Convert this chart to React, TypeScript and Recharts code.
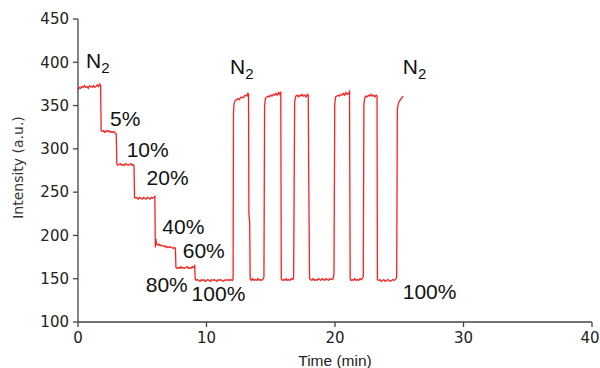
import { LineChart, Line, XAxis, YAxis, ReferenceDot, Label } from 'recharts'

// time (min), intensity (a.u.)
const n2Start: [number, number][] = [
  [0, 368], [0.1, 371], [0.2, 370], [0.3, 372], [0.4, 371], [0.5, 373], [0.6, 371], [0.7, 372],
  [0.8, 370], [0.9, 373], [1.0, 372], [1.1, 371], [1.2, 373], [1.3, 371], [1.4, 372], [1.5, 374],
  [1.6, 372], [1.7, 375], [1.76, 373],
]

const concentrationSteps: [number, number][] = [
  // 5%
  [1.8, 321], [1.9, 320], [2.0, 321], [2.1, 319], [2.2, 321], [2.3, 320], [2.4, 321], [2.5, 319],
  [2.6, 320], [2.7, 319], [2.8, 320], [2.9, 318], [2.98, 317],
  // 10%
  [3.02, 283], [3.1, 281], [3.2, 282], [3.3, 283], [3.4, 281], [3.5, 282], [3.6, 281], [3.7, 283],
  [3.8, 282], [3.9, 281], [4.0, 282], [4.1, 283], [4.2, 281], [4.3, 282], [4.36, 280],
  // 20%
  [4.4, 244], [4.5, 243], [4.6, 244], [4.7, 242], [4.8, 244], [4.9, 243], [5.0, 242], [5.1, 244],
  [5.2, 243], [5.3, 242], [5.4, 244], [5.5, 243], [5.6, 242], [5.7, 244], [5.8, 243], [5.9, 244],
  [5.98, 245],
  // 40%
  [6.02, 186], [6.06, 196], [6.12, 190], [6.2, 189], [6.3, 190], [6.4, 188], [6.5, 189], [6.6, 188],
  [6.7, 187], [6.8, 188], [6.9, 186], [7.0, 187], [7.1, 186], [7.2, 187], [7.3, 186], [7.4, 185],
  [7.5, 186], [7.58, 185],
  // 60%
  [7.62, 163], [7.7, 162], [7.8, 163], [7.9, 162], [8.0, 164], [8.1, 162], [8.2, 163], [8.3, 162],
  [8.4, 163], [8.5, 164], [8.6, 162], [8.7, 163], [8.8, 162], [8.9, 164], [9.0, 163], [9.08, 165],
  // 80% / 100%
  [9.12, 150], [9.2, 148], [9.3, 149], [9.4, 148], [9.5, 147], [9.6, 149], [9.7, 148], [9.8, 149],
  [9.9, 147], [10.0, 148], [10.1, 149], [10.2, 148], [10.3, 147], [10.4, 149], [10.5, 148], [10.6, 149],
  [10.7, 148], [10.8, 147], [10.9, 149], [11.0, 148], [11.1, 149], [11.2, 148], [11.3, 147], [11.4, 148],
  [11.5, 149], [11.6, 148], [11.7, 149], [11.8, 148], [11.9, 149], [12.0, 148], [12.07, 150],
]

const cycles: [number, number][] = [
  [12.1, 340], [12.14, 352], [12.25, 356], [12.35, 357], [12.45, 358], [12.55, 357], [12.65, 359],
  [12.75, 360], [12.85, 359], [12.95, 361], [13.05, 362], [13.15, 361], [13.22, 364], [13.27, 363],
  [13.3, 225], [13.36, 215], [13.4, 150],
  [13.5, 148], [13.6, 150], [13.7, 148], [13.8, 149], [13.9, 148], [14.0, 150], [14.1, 148],
  [14.2, 149], [14.3, 148], [14.42, 150],
  [14.47, 152], [14.52, 350], [14.58, 358], [14.7, 360], [14.8, 361], [14.9, 360], [15.0, 362],
  [15.1, 361], [15.2, 363], [15.3, 362], [15.4, 364], [15.5, 362], [15.6, 365], [15.7, 363], [15.78, 366],
  [15.82, 150], [15.9, 148], [16.0, 149], [16.1, 148], [16.2, 150], [16.3, 148], [16.4, 149],
  [16.5, 148], [16.6, 150], [16.72, 149],
  [16.78, 152], [16.86, 355], [16.95, 361], [17.05, 362], [17.15, 360], [17.25, 362], [17.35, 361],
  [17.45, 363], [17.55, 361], [17.65, 362], [17.75, 360], [17.85, 363], [17.92, 362],
  [17.95, 279], [18.02, 150], [18.1, 149], [18.2, 148], [18.3, 150], [18.4, 148], [18.5, 149],
  [18.6, 148], [18.7, 150], [18.8, 149], [18.9, 148], [19.0, 150], [19.1, 149], [19.2, 148],
  [19.3, 150], [19.4, 149], [19.5, 148], [19.6, 150], [19.7, 149], [19.85, 150],
  [19.92, 155], [19.98, 352], [20.05, 360], [20.15, 361], [20.25, 362], [20.35, 361], [20.45, 363],
  [20.55, 362], [20.65, 364], [20.75, 362], [20.85, 365], [20.95, 363], [21.05, 364], [21.13, 366],
  [21.18, 150], [21.25, 148], [21.35, 149], [21.45, 148], [21.55, 150], [21.65, 148], [21.75, 149],
  [21.85, 148], [21.95, 150], [22.05, 149], [22.15, 151],
  [22.2, 153], [22.25, 352], [22.32, 359], [22.4, 361], [22.5, 360], [22.6, 362], [22.7, 361],
  [22.8, 363], [22.9, 361], [23.0, 362], [23.1, 360], [23.2, 362], [23.27, 361],
  [23.3, 149], [23.4, 148], [23.5, 149], [23.6, 147], [23.7, 148], [23.8, 149], [23.9, 147],
  [24.0, 148], [24.1, 149], [24.2, 148], [24.3, 147], [24.4, 148], [24.5, 149], [24.6, 148], [24.75, 150],
  [24.8, 152], [24.85, 345], [24.92, 352], [25.0, 355], [25.1, 357], [25.2, 359], [25.3, 361],
]

// label text, anchored at its left baseline in data coordinates
const annotations: { t: number; v: number; text: string; sub?: string }[] = [
  { t: 0.62, v: 393, text: 'N', sub: '2' },
  { t: 2.49, v: 326, text: '5%' },
  { t: 3.79, v: 291, text: '10%' },
  { t: 5.34, v: 258, text: '20%' },
  { t: 6.56, v: 202, text: '40%' },
  { t: 8.15, v: 174, text: '60%' },
  { t: 5.27, v: 135, text: '80%' },
  { t: 8.84, v: 124, text: '100%' },
  { t: 11.83, v: 386, text: 'N', sub: '2' },
  { t: 25.27, v: 386, text: 'N', sub: '2' },
  { t: 25.27, v: 127, text: '100%' },
]

const xTicks = [0, 10, 20, 30, 40]
const yTicks = [100, 150, 200, 250, 300, 350, 400, 450]

const data = [...n2Start, ...concentrationSteps, ...cycles].map(([t, v]) => ({ t, v }))

const axisColor = '#444'
const axisFont = '"DejaVu Sans", Verdana, sans-serif'
const labelFont = '"Liberation Sans", Arial, sans-serif'

// keep the last x tick label inside the window
const XTick = ({ x, y, payload }: any) => (
  <text
    x={payload.value === 40 ? x - 2 : x}
    y={y}
    dy={11}
    textAnchor="middle"
    fill="#222"
    fontSize={15}
    fontFamily={axisFont}
  >
    {payload.value}
  </text>
)

export default function App() {
  return (
    <div style={{ position: 'absolute', left: 0, top: 0, width: 600, height: 368, background: '#fff' }}>
      <LineChart width={600} height={368} data={data} margin={{ top: 19, right: 8, left: 18, bottom: 0 }}>
        <XAxis
          dataKey="t"
          type="number"
          domain={[0, 40]}
          ticks={xTicks}
          allowDataOverflow
          height={46}
          stroke={axisColor}
          strokeWidth={1.3}
          tickSize={5}
          tickMargin={5}
          tick={<XTick />}
        >
          <Label
            value="Time (min)"
            position="insideBottom"
            offset={2}
            style={{ fill: '#222', fontSize: 15.5, fontFamily: labelFont }}
          />
        </XAxis>
        <YAxis
          type="number"
          domain={[100, 450]}
          ticks={yTicks}
          allowDataOverflow
          width={60}
          stroke={axisColor}
          strokeWidth={1.3}
          tickSize={5}
          tickMargin={4}
          tick={{ fill: '#222', fontSize: 15, fontFamily: axisFont }}
        >
          <Label
            content={({ viewBox }: any) => {
              const cx = viewBox.x + 5
              const cy = viewBox.y + viewBox.height / 2 - 3
              return (
                <text
                  x={cx}
                  y={cy}
                  transform={`rotate(-90, ${cx}, ${cy})`}
                  textAnchor="middle"
                  fill="#333"
                  fontSize={14}
                  fontFamily={axisFont}
                >
                  Intensity (a.u.)
                </text>
              )
            }}
          />
        </YAxis>
        <Line
          type="linear"
          dataKey="v"
          stroke="#ff1f1f"
          strokeWidth={1.3}
          dot={false}
          isAnimationActive={false}
        />
        {annotations.map((a, i) => (
          <ReferenceDot
            key={i}
            x={a.t}
            y={a.v}
            r={0}
            shape={(p: any) => (
              <text x={p.cx} y={p.cy} fill="#111" fontSize={21} fontFamily={labelFont}>
                {a.text}
                {a.sub && (
                  <tspan fontSize={15} dy={4.5}>
                    {a.sub}
                  </tspan>
                )}
              </text>
            )}
          />
        ))}
      </LineChart>
    </div>
  )
}
